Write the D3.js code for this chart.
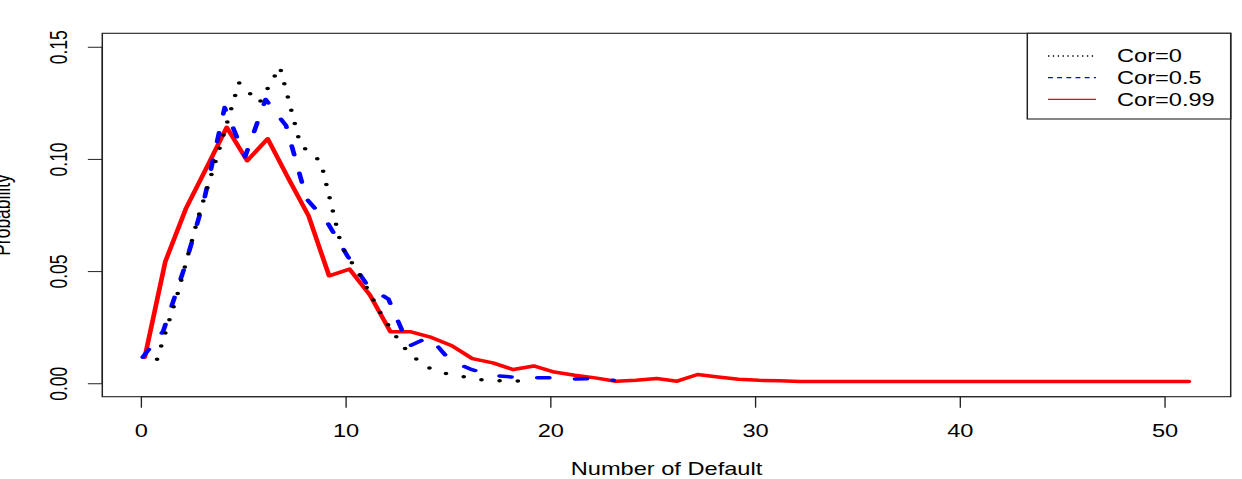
<!DOCTYPE html>
<html>
<head>
<meta charset="utf-8">
<script src="https://cdn.jsdelivr.net/npm/d3@7"></script>
<style>
  html, body { margin: 0; padding: 0; background: #fff; }
  svg { display: block; }
  text { font-family: "Liberation Sans", Arial, Helvetica, sans-serif; fill: #000; }
</style>
</head>
<body>
<div id="chart"></div>
<script>
// number of defaults (x categories)
const nDefault = d3.range(0, 52);

// probabilities
const probCor0 = [0.0107, 0.0398, 0.0737, 0.1032, 0.1340, 0.1250, 0.1410, 0.1063, 0.0987, 0.0612,
  0.0467, 0.0299, 0.0165, 0.0078, 0.0045, 0.0029, 0.0013, 0.0011, 0.0010];
const probCor05 = [0.0116, 0.0232, 0.0505, 0.0818, 0.1229, 0.1010, 0.1265, 0.1148, 0.0822, 0.0719,
  0.0567, 0.0433, 0.0375, 0.0165, 0.0206, 0.0103, 0.0063, 0.0036, 0.0028, 0.0025,
  0.0024, 0.0019, 0.0020, 0.0013];
const probCor099 = [0.0116, 0.0542, 0.0777, 0.0958, 0.1141, 0.0992, 0.1090, 0.0916, 0.0746, 0.0479,
  0.0509, 0.0393, 0.0229, 0.0229, 0.0204, 0.0167, 0.0110, 0.0091, 0.0061, 0.0077,
  0.0050, 0.0036, 0.0024, 0.0009, 0.0013, 0.0021, 0.0009, 0.0039, 0.0028, 0.0018,
  0.0013, 0.0011, 0.0008, 0.0008, 0.0008, 0.0008, 0.0008, 0.0008, 0.0008, 0.0008,
  0.0008, 0.0008, 0.0008, 0.0008, 0.0008, 0.0008, 0.0008, 0.0008, 0.0008, 0.0008,
  0.0008, 0.0008];

const seriesNames = [`Cor=0`, `Cor=0.5`, `Cor=0.99`];
const xTicks = [0, 10, 20, 30, 40, 50];
const yTicks = [0, 0.05, 0.10, 0.15];

class DefaultChart {
  constructor(el) {
    this.el = el;
    this.width = 1242;
    this.height = 479;
    // the source png was stretched sideways, so draw in narrower units and let the viewBox widen it
    this.stretch = 1.35;
    this.inner = this.width / this.stretch;
    this.box = { left: 102.3 / this.stretch, right: 1230.7 / this.stretch, top: 33.3, bottom: 396.7 };
    this.x = d3.scaleLinear().domain([-1.876, 53.24]).range([this.box.left, this.box.right]);
    this.y = d3.scaleLinear().domain([-0.006, 0.156]).range([this.box.bottom, this.box.top]);
    this.series = [
      { name: seriesNames[2], values: probCor099, shift: 0.2, color: `#ff0000`, dash: null, legendDash: null },
      { name: seriesNames[1], values: probCor05, shift: 0.1, color: `#0000ff`, dash: `9 19`, legendDash: `3.6 3.2` },
      { name: seriesNames[0], values: probCor0, shift: 0.8, color: `#000000`, dash: `0 13.5`, legendDash: `1 2.6` }
    ];
  }

  render() {
    this.svg = d3.select(this.el).append(`svg`)
      .attr(`width`, this.width)
      .attr(`height`, this.height)
      .attr(`viewBox`, `0 0 ${this.inner} ${this.height}`)
      .attr(`preserveAspectRatio`, `none`);

    this.drawLines();
    this.drawFrame();
    this.drawAxes();
    this.drawLegend();
  }

  drawLines() {
    const line = d3.line()
      .x((d) => this.x(d.n))
      .y((d) => this.y(d.p));

    this.series.forEach((s) => {
      const pts = s.values.map((p, i) => ({ n: nDefault[i] + s.shift, p }));
      this.svg.append(`path`)
        .datum(pts)
        .attr(`d`, line)
        .attr(`fill`, `none`)
        .attr(`stroke`, s.color)
        .attr(`stroke-width`, 3.5)
        .attr(`stroke-linecap`, `round`)
        .attr(`stroke-linejoin`, `round`)
        .attr(`stroke-dasharray`, s.dash);
    });
  }

  drawFrame() {
    this.svg.append(`rect`)
      .attr(`x`, this.box.left)
      .attr(`y`, this.box.top)
      .attr(`width`, this.box.right - this.box.left)
      .attr(`height`, this.box.bottom - this.box.top)
      .attr(`fill`, `none`)
      .attr(`stroke`, `#222`)
      .attr(`stroke-width`, 1.1);
  }

  drawAxes() {
    const xAxis = this.svg.append(`g`)
      .attr(`transform`, `translate(0,${this.box.bottom})`)
      .call(d3.axisBottom(this.x).tickValues(xTicks).tickSize(11).tickPadding(0).tickSizeOuter(0).tickFormat(d3.format(`d`)));
    xAxis.select(`.domain`).attr(`d`, `M${this.x(0)},0H${this.x(50)}`).attr(`stroke`, `#222`);
    xAxis.selectAll(`.tick line`).attr(`stroke`, `#222`);
    xAxis.selectAll(`.tick text`)
      .attr(`y`, 40)
      .attr(`dy`, null)
      .style(`font-size`, `17.5px`)
      .style(`font-family`, null);

    const yAxis = this.svg.append(`g`)
      .attr(`transform`, `translate(${this.box.left},0)`)
      .call(d3.axisLeft(this.y).tickValues(yTicks).tickSize(10.7).tickSizeOuter(0).tickFormat(d3.format(`.2f`)));
    yAxis.select(`.domain`).attr(`d`, `M0,${this.y(0)}V${this.y(0.15)}`).attr(`stroke`, `#222`);
    yAxis.selectAll(`.tick line`).attr(`stroke`, `#222`);
    yAxis.selectAll(`.tick text`)
      .attr(`x`, null)
      .attr(`dy`, null)
      .attr(`text-anchor`, `middle`)
      .attr(`transform`, `translate(${66.7 / this.stretch - this.box.left},0) rotate(-90)`)
      .style(`font-size`, `17.5px`)
      .style(`font-family`, null);
    yAxis.attr(`font-family`, null).attr(`font-size`, null);
    xAxis.attr(`font-family`, null).attr(`font-size`, null);

    // axis titles sit right at the edges of the picture, as in the original
    this.svg.append(`text`)
      .attr(`x`, (this.box.left + this.box.right) / 2)
      .attr(`y`, 475)
      .attr(`text-anchor`, `middle`)
      .style(`font-size`, `17.5px`)
      .text(`Number of Default`);

    this.svg.append(`text`)
      .attr(`transform`, `translate(${10 / this.stretch},${(this.box.top + this.box.bottom) / 2}) rotate(-90)`)
      .attr(`text-anchor`, `middle`)
      .style(`font-size`, `17.5px`)
      .text(`Probability`);
  }

  drawLegend() {
    const left = 1027.3 / this.stretch;
    const g = this.svg.append(`g`);
    g.append(`rect`)
      .attr(`x`, left)
      .attr(`y`, this.box.top)
      .attr(`width`, this.box.right - left)
      .attr(`height`, 119 - this.box.top)
      .attr(`fill`, `#fff`)
      .attr(`stroke`, `#222`)
      .attr(`stroke-width`, 1.1);

    const rows = this.series.slice().reverse();
    const rowY = d3.scalePoint().domain(rows.map((d) => d.name)).range([56, 99.3]);

    rows.forEach((s) => {
      const cy = rowY(s.name);
      g.append(`line`)
        .attr(`x1`, 1048 / this.stretch)
        .attr(`x2`, 1096 / this.stretch)
        .attr(`y1`, cy)
        .attr(`y2`, cy)
        .attr(`stroke`, s.color)
        .attr(`stroke-width`, 1.3)
        .attr(`stroke-dasharray`, s.legendDash);
      g.append(`text`)
        .attr(`x`, 1117 / this.stretch)
        .attr(`y`, cy + 6.3)
        .style(`font-size`, `17.5px`)
        .text(s.name);
    });
  }
}

new DefaultChart(`#chart`).render();
</script>
</body>
</html>
